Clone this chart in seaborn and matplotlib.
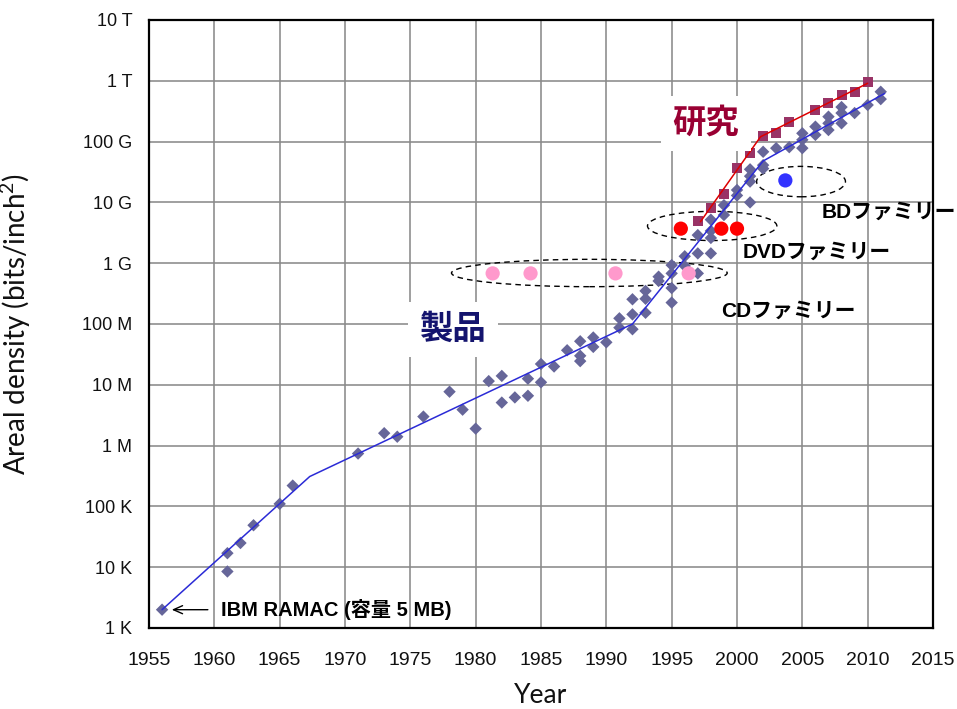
import matplotlib
matplotlib.use("Agg")
import numpy as np
import matplotlib.pyplot as plt
import seaborn as sns
from matplotlib.patches import Ellipse

# Areal density of HDD products (bits/inch^2)
product_year = [1956, 1961, 1961, 1962, 1963, 1965, 1966, 1971, 1973, 1974,
                1976, 1978, 1979, 1980, 1981, 1982, 1982, 1983, 1984, 1984,
                1985, 1985, 1986, 1987, 1988, 1988, 1988, 1989, 1989, 1990,
                1991, 1991, 1992, 1992, 1992, 1993, 1993, 1993, 1994, 1994,
                1995, 1995, 1995, 1995, 1996, 1996, 1997, 1997, 1997, 1998,
                1998, 1998, 1998, 1999, 1999, 2000, 2000, 2001, 2001, 2001,
                2001, 2002, 2002, 2002, 2003, 2004, 2005, 2005, 2005, 2006,
                2006, 2007, 2007, 2007, 2008, 2008, 2008, 2009, 2010, 2011,
                2011]
product_density = [2.0e3, 1.7e4, 8.5e3, 2.5e4, 4.9e4, 1.1e5, 2.2e5, 7.4e5, 1.6e6, 1.4e6,
                   3.0e6, 7.7e6, 3.9e6, 1.9e6, 1.15e7, 1.4e7, 5.1e6, 6.2e6, 1.26e7, 6.6e6,
                   2.2e7, 1.1e7, 2.0e7, 3.7e7, 5.2e7, 3.0e7, 2.45e7, 6.0e7, 4.2e7, 5.0e7,
                   1.24e8, 8.7e7, 8.2e7, 1.44e8, 2.55e8, 3.5e8, 2.6e8, 1.53e8, 6.0e8, 5.1e8,
                   9.3e8, 6.8e8, 3.9e8, 2.25e8, 1.3e9, 9.0e8, 2.9e9, 1.45e9, 6.8e8, 5.2e9,
                   3.4e9, 2.6e9, 1.45e9, 9.0e9, 6.2e9, 1.6e10, 1.3e10, 3.5e10, 2.7e10, 2.2e10,
                   1.0e10, 6.8e10, 4.1e10, 3.6e10, 7.8e10, 8.1e10, 1.37e11, 1.07e11, 7.8e10, 1.76e11,
                   1.29e11, 2.57e11, 2.0e11, 1.55e11, 3.7e11, 2.95e11, 2.0e11, 2.95e11, 4.0e11, 6.6e11,
                   5.0e11]

# Laboratory demonstrations
research_year = [1997, 1998, 1999, 2000, 2001, 2002, 2003, 2004, 2006, 2007, 2008, 2009, 2010]
research_density = [4.9e9, 8.0e9, 1.4e10, 3.7e10, 6.6e10, 1.23e11, 1.41e11, 2.14e11,
                    3.3e11, 4.3e11, 5.9e11, 6.45e11, 9.6e11]

# Piecewise trend lines
product_trend_year = [1956, 1967.3, 1992, 2002, 2011.3]
product_trend_density = [2.0e3, 3.1e5, 1.0e8, 4.8e10, 6.2e11]
research_trend_year = [1997.2, 2001.8, 2010]
research_trend_density = [4.8e9, 1.2e11, 9.1e11]

# Optical disc families
cd_year = [1981.3, 1984.2, 1990.7, 1996.3]
cd_density = [6.8e8, 6.8e8, 6.8e8, 6.8e8]
dvd_year = [1995.7, 1998.8, 2000.0]
dvd_density = [3.7e9, 3.7e9, 3.7e9]
bd_year = [2003.7]
bd_density = [2.3e10]

# Group outlines: centre year, centre density, width (years), height (decades)
group_year = [1988.7, 1998.1, 2004.9]
group_density = [6.9e8, 4.1e9, 2.2e10]
group_width_years = [21.1, 9.9, 6.8]
group_height_decades = [0.45, 0.48, 0.50]

y_ticks = [1e3, 1e4, 1e5, 1e6, 1e7, 1e8, 1e9, 1e10, 1e11, 1e12, 1e13]
y_tick_labels = ["1 K", "10 K", "100 K", "1 M", "10 M", "100 M",
                 "1 G", "10 G", "100 G", "1 T", "10 T"]
x_ticks = [1955, 1960, 1965, 1970, 1975, 1980, 1985, 1990, 1995, 2000, 2005, 2010, 2015]

X_MIN, X_MAX = 1955, 2015
Y_MIN, Y_MAX = 1e3, 1e13

sns.set_style("white")
plt.rcParams["font.family"] = ["Liberation Sans", "Noto Sans CJK JP", "DejaVu Sans"]
plt.rcParams["mathtext.fontset"] = "custom"
plt.rcParams["mathtext.rm"] = "Lato"
plt.rcParams["mathtext.it"] = "Lato"

fig = plt.figure(figsize=(9.57, 7.09), dpi=100)
ax = fig.add_axes([149 / 957, (709 - 628) / 709, 784 / 957, 608 / 709])
ax.set_yscale("log")
ax.set_xlim(X_MIN, X_MAX)
ax.set_ylim(Y_MIN, Y_MAX)

ax.set_xticks(x_ticks)
ax.set_xticklabels([str(v) for v in x_ticks])
ax.set_yticks(y_ticks)
ax.set_yticklabels(y_tick_labels)
ax.yaxis.set_minor_locator(matplotlib.ticker.NullLocator())
ax.grid(True, which="major", color="#8a8a8a", linewidth=1.15, zorder=0)
ax.set_axisbelow(True)
for sp in ax.spines.values():
    sp.set_color("black")
    sp.set_linewidth(1.6)
ax.tick_params(axis="both", which="major", direction="out", length=5, width=1.2,
               color="black", labelcolor="#111111")
ax.tick_params(axis="y", pad=7, labelsize=13)
ax.tick_params(axis="x", pad=12, labelsize=14)


def to_axes(year, density):
    return ((year - X_MIN) / (X_MAX - X_MIN),
            (np.log10(density) - np.log10(Y_MIN)) / (np.log10(Y_MAX) - np.log10(Y_MIN)))


# Dashed outlines around each optical-disc family
for yr, dens, w, h in zip(group_year, group_density, group_width_years, group_height_decades):
    cx, cy = to_axes(yr, dens)
    ax.add_patch(Ellipse((cx, cy), w / (X_MAX - X_MIN),
                         h / (np.log10(Y_MAX) - np.log10(Y_MIN)),
                         transform=ax.transAxes, fill=False, edgecolor="black",
                         linestyle=(0, (4, 3)), linewidth=1.0, zorder=2))

sns.scatterplot(x=product_year, y=product_density, marker="D", s=40,
                color="#666699", edgecolor="none", ax=ax, zorder=3)
sns.scatterplot(x=research_year, y=research_density, marker="s", s=52,
                color="#993366", edgecolor="none", ax=ax, zorder=3)
sns.scatterplot(x=cd_year, y=cd_density, marker="o", s=105,
                color="#ff99cc", edgecolor="none", ax=ax, zorder=3)
sns.scatterplot(x=dvd_year, y=dvd_density, marker="o", s=105,
                color="#ff0000", edgecolor="none", ax=ax, zorder=3)
sns.scatterplot(x=bd_year, y=bd_density, marker="o", s=105,
                color="#3333ff", edgecolor="none", ax=ax, zorder=3)

sns.lineplot(x=product_trend_year, y=product_trend_density, color="#2b2bd6",
             linewidth=1.1, ax=ax, zorder=4)
sns.lineplot(x=research_trend_year, y=research_trend_density, color="#dd0000",
             linewidth=1.1, ax=ax, zorder=4)

# Labels
ax.text(1997.6, 2.0e11, "研究", color="#990033", fontsize=24, fontweight="bold",
        ha="center", va="center", zorder=5,
        bbox=dict(boxstyle="square,pad=0.35", facecolor="white", edgecolor="none"))
ax.text(1978.3, 8.0e7, "製品", color="#14146e", fontsize=24, fontweight="bold",
        ha="center", va="center", zorder=5,
        bbox=dict(boxstyle="square,pad=0.35", facecolor="white", edgecolor="none"))

fam_kw = dict(color="black", fontsize=15, fontweight="bold", ha="left", va="center",
              zorder=5, clip_on=False)
ax.text(2006.5, 6.8e9, "BDファミリー", **fam_kw)
ax.text(2000.4, 1.5e9, "DVDファミリー", **fam_kw)
ax.text(1998.8, 1.6e8, "CDファミリー", **fam_kw)

ax.annotate("IBM RAMAC (容量 5 MB)", xy=(product_year[0], product_density[0]),
            xytext=(1960.5, product_density[0]), ha="left", va="center",
            fontsize=14.5, fontweight="bold", color="black", zorder=5,
            arrowprops=dict(arrowstyle="->,head_length=0.45,head_width=0.2",
                            color="black", linewidth=1.0, shrinkA=7, shrinkB=7))

ax.set_xlabel("Year", fontsize=19, family="Lato", color="#111111")
ax.set_ylabel(r"Areal density (bits/inch$^{2}$)", fontsize=20, family="Lato",
              color="#111111")
ax.xaxis.set_label_coords(0.5, -0.09)
ax.yaxis.set_label_coords(-0.148, 0.5)

fig.savefig("out.png", dpi=100)
